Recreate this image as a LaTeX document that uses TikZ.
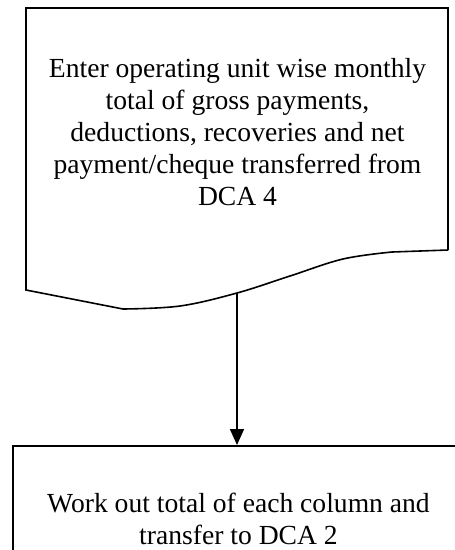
\documentclass[tikz,border=0pt]{standalone}
\usepackage{fontspec}
\setmainfont{Liberation Serif}
\usetikzlibrary{arrows.meta}
\begin{document}
\begin{tikzpicture}[x=1pt,y=-1pt,
  outline/.style={draw=black,line width=1.6pt,line join=miter},
  label/.style={align=center,inner sep=0pt,font=\fontsize{27.6}{32}\selectfont},
  flow/.style={draw=black,line width=1.6pt,-{Triangle[length=16pt,width=14pt]}}]
  \useasboundingbox (0,0) rectangle (455,550);
  \clip (0,0) rectangle (455,550);

  % document symbol with wavy lower edge
  \draw[outline] (448,250) -- (448,8) -- (26,8) -- (26,290) -- (123,309)
    plot[smooth,tension=0.6] coordinates {(123,309) (180,306) (237,293) (290,276) (343,259) (392,252)}
    -- (448,250);
  \coordinate (docout) at (237,293);
  \node[label,anchor=north] (entry) at (237.5,58.5)
    {Enter operating unit wise monthly\\total of gross payments,\\deductions, recoveries and net\\payment/cheque transferred from\\DCA 4};

  % process box, continuing past the lower and right edges
  \node[outline,anchor=north west,minimum width=470pt,minimum height=140pt,inner sep=0pt] (work) at (12,445) {};
  \node[label,anchor=north] (worktext) at (238.5,493.2)
    {Work out total of each column and\\transfer to DCA 2};

  \draw[flow] (docout) -- (docout |- work.north);
\end{tikzpicture}
\end{document}
